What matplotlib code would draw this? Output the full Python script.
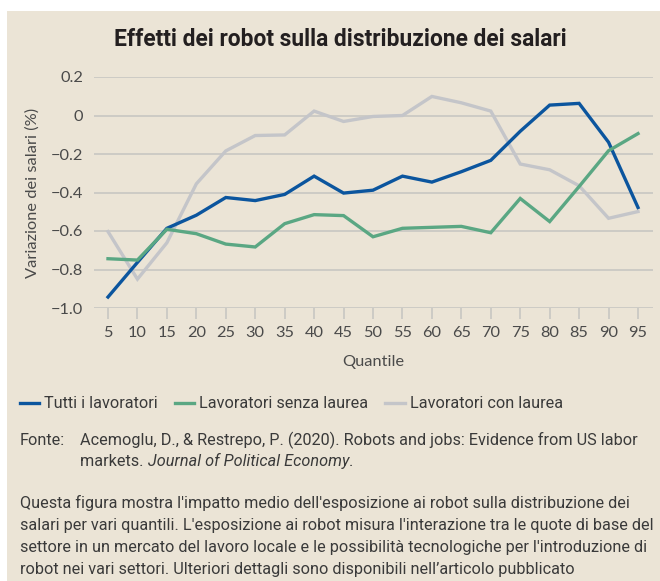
import matplotlib
matplotlib.use("Agg")
import matplotlib.pyplot as plt
from matplotlib.patches import Rectangle
from matplotlib.lines import Line2D
from matplotlib import font_manager

quantiles = [5, 10, 15, 20, 25, 30, 35, 40, 45, 50, 55, 60, 65, 70, 75, 80, 85, 90, 95]
tutti = [-0.943, -0.763, -0.586, -0.518, -0.426, -0.442, -0.410, -0.315, -0.403, -0.388,
         -0.315, -0.346, -0.292, -0.233, -0.082, 0.054, 0.063, -0.139, -0.478]
senza = [-0.744, -0.751, -0.591, -0.614, -0.668, -0.683, -0.562, -0.515, -0.520, -0.630,
         -0.586, -0.581, -0.576, -0.609, -0.431, -0.551, -0.369, -0.183, -0.094]
con = [-0.603, -0.850, -0.661, -0.355, -0.184, -0.104, -0.101, 0.023, -0.031, -0.005,
       0.000, 0.099, 0.066, 0.023, -0.252, -0.282, -0.365, -0.534, -0.499]
yticks = [0.2, 0, -0.2, -0.4, -0.6, -0.8, -1.0]
ytick_labels = ["0.2", "0", "\u22120.2", "\u22120.4", "\u22120.6", "\u22120.8", "\u22121.0"]
series_names = ["Tutti i lavoratori", "Lavoratori senza laurea", "Lavoratori con laurea"]
colors = ["#0B559E", "#5AA783", "#C4C5C9"]

avail = {f.name for f in font_manager.fontManager.ttflist}
narrow = "Liberation Sans Narrow" if "Liberation Sans Narrow" in avail else "Roboto"
tickfont = "Lato"

W, H = 660, 581
fig = plt.figure(figsize=(W / 100, H / 100), dpi=100, facecolor="white")
bg = "#EBE4D6"
fig.patches.append(Rectangle((7 / W, 0), 1 - 7 / W, (H - 11) / H, transform=fig.transFigure,
                             facecolor=bg, edgecolor="none", zorder=-10))

ax = fig.add_axes([94 / W, 1 - 308 / H, (653 - 94) / W, (308 - 77) / H])
ax.set_zorder(5)
ax.patch.set_visible(False)
for name, vals, c in zip(series_names, [tutti, senza, con], colors):
    z = 3 if c != colors[2] else 2
    ax.plot(quantiles, vals, color=c, lw=2.4, label=name, zorder=z, solid_joinstyle="miter")

ax.set_ylim(-1.0, 0.2)
ax.set_xlim(5 - 14 / 5.889, 95 + 15 / 5.889)
ax.set_yticks(yticks)
ax.set_yticklabels(ytick_labels, fontfamily=tickfont, fontsize=11.8, color="#4a4a4a")
ax.set_xticks(quantiles)
ax.set_xticklabels([str(q) for q in quantiles], fontfamily=tickfont, fontsize=11.8, color="#4a4a4a")
ax.grid(axis="y", color="#C8C6C2", lw=1.2, zorder=1)
for s in ax.spines.values():
    s.set_visible(False)
ax.tick_params(axis="y", length=0, pad=8)
ax.tick_params(axis="x", length=8, width=1.2, color="#C8C6C2", pad=5)
ax.set_ylabel("Variazione dei salari (%)", fontfamily=tickfont, fontsize=11.8, color="#4a4a4a", labelpad=8)
ax.set_xlabel("Quantile", fontfamily=tickfont, fontsize=11.8, color="#4a4a4a", labelpad=11)

fig.text(340 / W, 1 - 40 / H, "Effetti dei robot sulla distribuzione dei salari", ha="center", va="center",
         fontfamily=narrow, fontweight="bold", fontsize=16.4, color="#231F20")

txtc = "#3a3a3a"
fs = 11.7
handles = [Line2D([], [], color=c, lw=2.4) for c in colors]
fig.legend(handles, series_names, loc="center left", bbox_to_anchor=(5 / W, 1 - 404 / H), ncol=3,
           frameon=False, handlelength=1.2, handletextpad=0.3, columnspacing=1.05,
           prop={"family": narrow, "size": fs}, labelcolor=txtc)

def base(y):
    return 1 - (y + 5) / H

fig.text(20 / W, base(440), "Fonte:", fontfamily=narrow, fontsize=fs, color=txtc, va="baseline")
fig.text(80 / W, base(440), "Acemoglu, D., & Restrepo, P. (2020). Robots and jobs: Evidence from US labor",
         fontfamily=narrow, fontsize=fs, color=txtc, va="baseline")
t1 = fig.text(80 / W, base(461), "markets. ", fontfamily=narrow, fontsize=fs, color=txtc, va="baseline")
fig.canvas.draw()
bb = t1.get_window_extent(renderer=fig.canvas.get_renderer())
t2 = fig.text(bb.x1 / W, base(461), "Journal of Political Economy", fontfamily=narrow, fontsize=fs,
              color=txtc, va="baseline", style="italic")
fig.canvas.draw()
bb2 = t2.get_window_extent(renderer=fig.canvas.get_renderer())
fig.text(bb2.x1 / W, base(461), ".", fontfamily=narrow, fontsize=fs, color=txtc, va="baseline")

para = ["Questa figura mostra l'impatto medio dell'esposizione ai robot sulla distribuzione dei",
        "salari per vari quantili. L'esposizione ai robot misura l'interazione tra le quote di base del",
        "settore in un mercato del lavoro locale e le possibilità tecnologiche per l'introduzione di",
        "robot nei vari settori. Ulteriori dettagli sono disponibili nell\u2019articolo pubblicato"]
for i, line in enumerate(para):
    fig.text(20 / W, base(503 + 22 * i), line, fontfamily=narrow, fontsize=fs, color=txtc, va="baseline")

fig.savefig("out.png", dpi=100, facecolor="white")
